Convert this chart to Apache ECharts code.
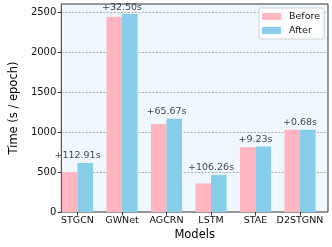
<!DOCTYPE html>
<html>
<head>
<meta charset="utf-8">
<script src="https://cdn.jsdelivr.net/npm/echarts@6/dist/echarts.min.js"></script>
<style>html,body{margin:0;padding:0;background:#fff;}#c{width:332px;height:247px;}</style>
</head>
<body>
<div id="c"></div>
<script>
const categories = ['STGCN', 'GWNet', 'AGCRN', 'LSTM', 'STAE', 'D2STGNN'];
const before = [500, 2442, 1100, 358, 808, 1029];
const increase = [112.91, 32.50, 65.67, 106.26, 9.23, 0.68];
const after = [612.91, 2474.50, 1165.67, 464.26, 817.23, 1029.68];
const yTicks = [0, 500, 1000, 1500, 2000, 2500];

const font = 'DejaVu Sans';
const chart = echarts.init(document.getElementById('c'), null, {renderer: 'canvas'});
const peaks = before.map((b, i) => Math.max(b, after[i]));

chart.setOption({
  animation: false,
  textStyle: {fontFamily: font},
  grid: [
    {left: 49, right: 4, top: 4, bottom: 35, show: true, backgroundColor: '#F0F8FF', borderColor: '#333', borderWidth: 1, containLabel: false},
    {left: 55.25, right: 9.75, top: 4, bottom: 35, containLabel: false}
  ],
  legend: {
    data: ['Before', 'After'],
    orient: 'vertical',
    left: 259, top: 8,
    padding: [3, 4, 3, 3],
    itemGap: 3,
    itemWidth: 19, itemHeight: 7,
    icon: 'rect',
    backgroundColor: 'rgba(255,255,255,0.8)',
    borderColor: '#d0d0d0', borderWidth: 1, borderRadius: 2,
    textStyle: {fontFamily: font, fontSize: 9.5, color: '#111', padding: [0, 0, 0, 3], lineHeight: 11}
  },
  xAxis: [
    {type: 'category', gridIndex: 0, data: categories, show: true,
     axisLine: {show: false}, axisTick: {show: false}, axisLabel: {show: false}, splitLine: {show: false},
     name: 'Models', nameLocation: 'middle', nameGap: 17,
     nameTextStyle: {fontFamily: font, fontSize: 11.5, color: '#000'}},
    {type: 'category', gridIndex: 1, data: categories,
     axisLine: {show: false},
     axisTick: {show: true, alignWithLabel: true, interval: 0, length: 3.5, lineStyle: {color: '#333', width: 1}},
     axisLabel: {fontFamily: font, fontSize: 9.5, color: '#111', margin: 4, interval: 0},
     splitLine: {show: false}}
  ],
  yAxis: [
    {type: 'value', gridIndex: 0, min: 0, max: 2600, interval: 500,
     axisLine: {show: false},
     axisTick: {show: true, length: 3.5, customValues: yTicks, lineStyle: {color: '#333', width: 1}},
     axisLabel: {fontFamily: font, fontSize: 10, color: '#111', margin: 5, customValues: yTicks,
       formatter: v => String(v)},
     splitLine: {show: true, lineStyle: {color: '#999', type: [2, 1.5], width: 0.8}},
     name: 'Time (s / epoch)', nameLocation: 'middle', nameGap: 34,
     nameTextStyle: {fontFamily: font, fontSize: 11.5, color: '#000'}},
    {type: 'value', gridIndex: 1, min: 0, max: 2600, show: false, splitLine: {show: false}}
  ],
  series: [
    {name: 'Before', type: 'bar', xAxisIndex: 1, yAxisIndex: 1, data: before,
     barWidth: '35%', barGap: '0%', itemStyle: {color: '#FFB6C1'}},
    {name: 'After', type: 'bar', xAxisIndex: 1, yAxisIndex: 1, data: after,
     barWidth: '35%', barGap: '0%', itemStyle: {color: '#87CEEB'}},
    {name: 'diff', type: 'scatter', xAxisIndex: 1, yAxisIndex: 1, data: peaks,
     symbolSize: 0, silent: true,
     label: {show: true, position: 'top', distance: 2, fontFamily: font, fontSize: 9.5, color: '#111',
       formatter: p => '+' + increase[p.dataIndex].toFixed(2) + 's'}}
  ]
});
</script>
</body>
</html>
